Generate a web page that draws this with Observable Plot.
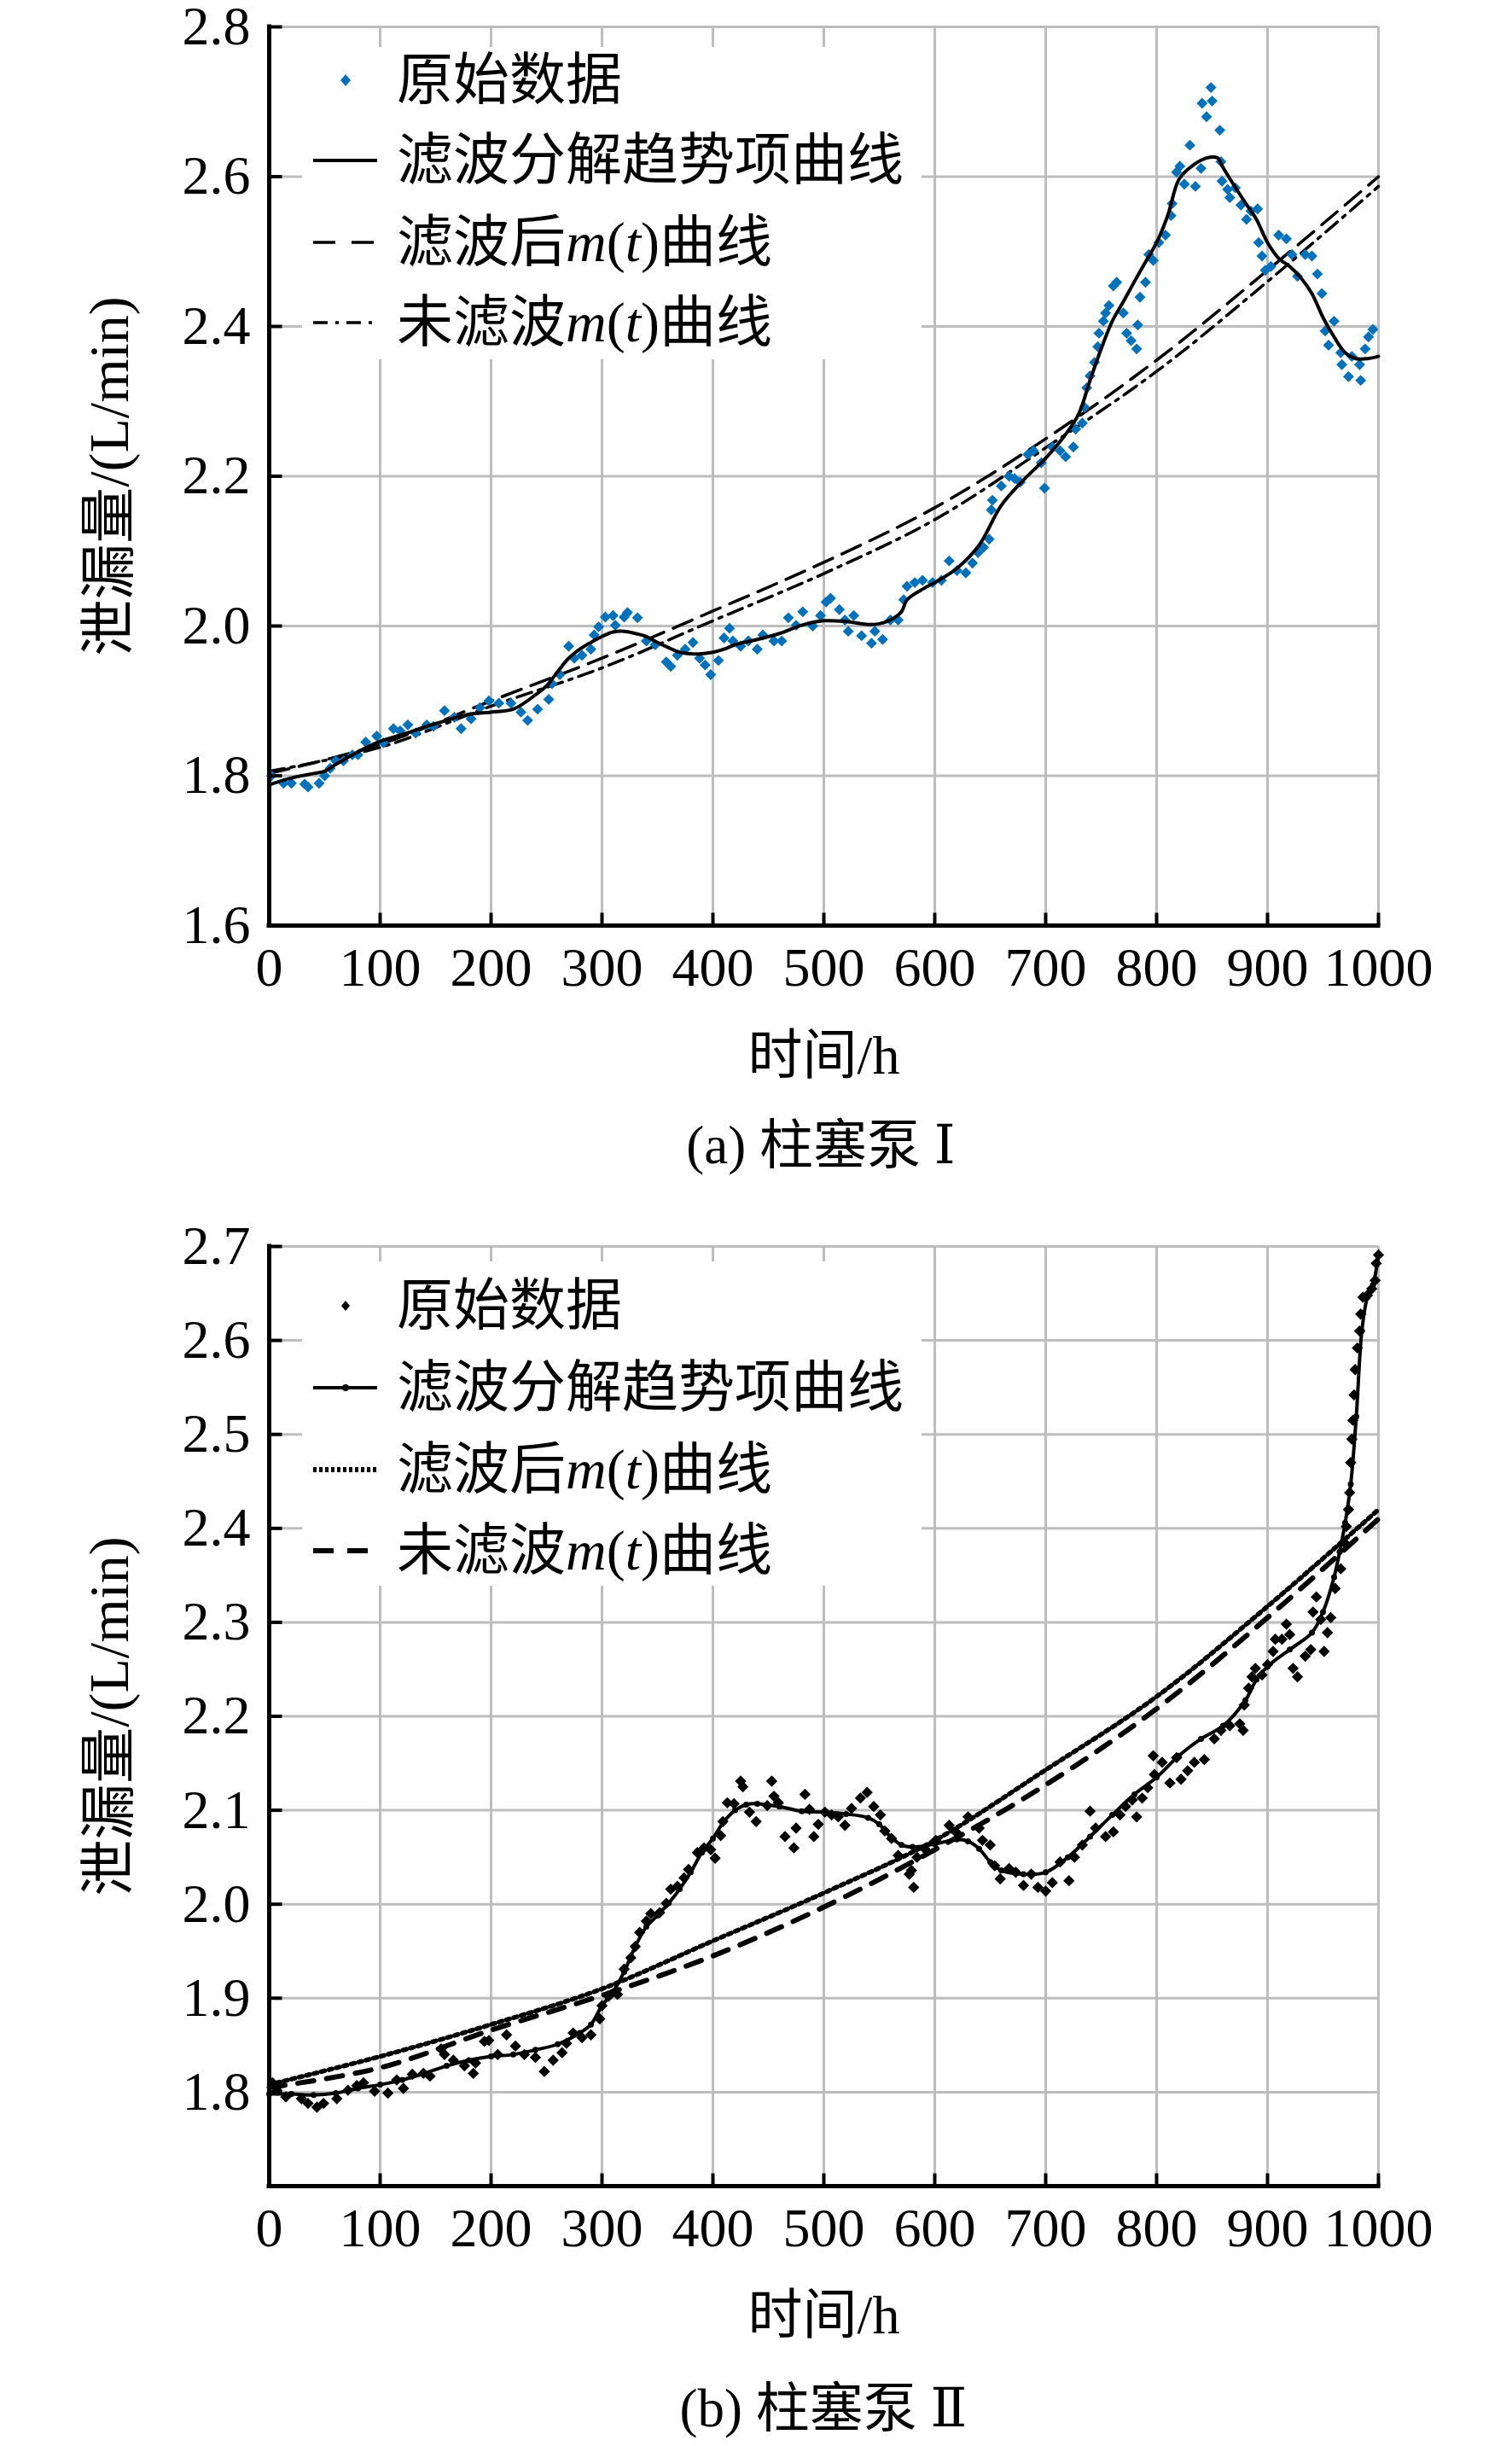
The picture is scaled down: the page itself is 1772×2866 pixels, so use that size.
<!DOCTYPE html>
<html><head><meta charset="utf-8">
<script src="https://cdn.jsdelivr.net/npm/d3@7"></script>
<script src="https://cdn.jsdelivr.net/npm/@observablehq/plot@0.6"></script>
<style>
html,body{margin:0;padding:0;background:#fff;overflow:hidden;}
#page{position:relative;width:1772px;height:2866px;overflow:hidden;font-family:"Liberation Serif","Noto Sans CJK SC",serif;color:#000;}
.fig{position:absolute;left:0;}
.cap{position:absolute;left:0;width:1772px;text-align:center;font-size:63px;line-height:80px;font-family:"Liberation Serif","DejaVu Serif","Noto Sans CJK SC",serif;}
.legend{position:absolute;background:#fff;}
.row{position:absolute;left:0;height:80px;display:flex;align-items:center;font-size:66px;white-space:nowrap;line-height:80px;}
.row svg{flex:none;}
.row i{font-style:italic;}
</style></head>
<body><div id="page"></div>
<script>
// ---------------- data ----------------
const xTicks = [0,100,200,300,400,500,600,700,800,900,1000];
const yTicksA = [1.6,1.8,2.0,2.2,2.4,2.6,2.8];
const yTicksB = [1.8,1.9,2.0,2.1,2.2,2.3,2.4,2.5,2.6,2.7];
const yGridB = [1.7,1.8,1.9,2.0,2.1,2.2,2.3,2.4,2.5,2.6,2.7];

// Pump I raw data [t (h), leakage (L/min)]
const rawA = [[2,1.80],[13,1.79],[20,1.79],[32,1.789],[35,1.785],[45,1.79],[50,1.80],[55,1.81],[60,1.82],[67,1.82],[75,1.828],[80,1.828],[87,1.845],[97,1.853],[103,1.844],[112,1.863],[118,1.86],[125,1.868],[132,1.857],[142,1.868],[148,1.866],[158,1.887],[167,1.878],[173,1.863],[182,1.876],[190,1.891],[198,1.90],[207,1.897],[218,1.897],[227,1.885],[233,1.874],[242,1.889],[252,1.902],[255,1.923],[262,1.935],[270,1.973],[275,1.957],[282,1.961],[290,1.969],[293,1.988],[297,1.999],[303,2.012],[310,2.014],[312,2.001],[320,2.012],[323,2.018],[332,2.011],[340,1.98],[348,1.975],[358,1.952],[362,1.946],[368,1.961],[375,1.969],[382,1.978],[388,1.957],[393,1.948],[398,1.935],[405,1.954],[410,1.984],[415,1.997],[418,1.98],[425,1.973],[432,1.98],[440,1.969],[445,1.988],[455,1.98],[462,1.98],[468,2.011],[475,2.001],[481,2.019],[490,2.0],[497,2.014],[502,2.032],[506,2.037],[514,2.022],[519,2.008],[522,1.993],[527,2.014],[534,1.987],[543,1.977],[546,1.993],[553,1.982],[560,2.008],[567,2.008],[572,2.035],[575,2.053],[582,2.058],[589,2.061],[598,2.058],[606,2.061],[613,2.087],[620,2.074],[628,2.071],[634,2.084],[639,2.098],[644,2.105],[649,2.116],[651,2.155],[652,2.168],[660,2.187],[667,2.20],[672,2.197],[677,2.192],[684,2.229],[689,2.234],[696,2.218],[699,2.184],[706,2.239],[713,2.234],[718,2.226],[725,2.239],[727,2.263],[733,2.271],[735,2.292],[737,2.318],[740,2.334],[744,2.352],[747,2.373],[748,2.391],[752,2.407],[754,2.418],[757,2.428],[761,2.454],[764,2.459],[770,2.418],[773,2.391],[777,2.381],[782,2.37],[783,2.402],[785,2.439],[790,2.459],[793,2.496],[797,2.488],[802,2.512],[808,2.522],[813,2.548],[814,2.564],[818,2.606],[821,2.614],[825,2.59],[830,2.642],[835,2.587],[840,2.611],[841,2.698],[845,2.68],[849,2.719],[850,2.701],[857,2.662],[858,2.62],[859,2.594],[864,2.583],[866,2.572],[871,2.585],[876,2.562],[881,2.543],[885,2.554],[891,2.557],[892,2.512],[895,2.494],[898,2.475],[903,2.48],[910,2.522],[917,2.517],[922,2.496],[927,2.467],[934,2.496],[940,2.494],[945,2.47],[949,2.444],[952,2.394],[955,2.375],[960,2.407],[966,2.365],[967,2.349],[973,2.333],[976,2.36],[983,2.349],[984,2.328],[988,2.37],[991,2.386],[995,2.396]];
const trendA = [[0,1.788],[20,1.797],[40,1.803],[50,1.806],[60,1.815],[80,1.832],[100,1.846],[120,1.855],[140,1.865],[160,1.874],[180,1.882],[200,1.885],[220,1.889],[240,1.908],[250,1.92],[260,1.939],[270,1.957],[280,1.969],[290,1.978],[300,1.986],[310,1.992],[320,1.993],[330,1.99],[340,1.986],[350,1.978],[360,1.971],[370,1.965],[380,1.963],[390,1.963],[400,1.965],[410,1.969],[420,1.975],[440,1.982],[460,1.99],[480,2.001],[500,2.007],[520,2.006],[540,2.002],[550,2.003],[560,2.008],[570,2.019],[575,2.035],[590,2.05],[600,2.058],[620,2.077],[640,2.108],[660,2.161],[680,2.195],[700,2.224],[720,2.26],[730,2.284],[740,2.328],[750,2.37],[760,2.407],[770,2.433],[780,2.46],[790,2.486],[800,2.512],[810,2.548],[820,2.596],[830,2.612],[840,2.622],[848,2.626],[855,2.625],[860,2.612],[870,2.588],[880,2.565],[890,2.543],[900,2.512],[910,2.491],[920,2.48],[930,2.465],[940,2.444],[950,2.412],[960,2.386],[970,2.365],[980,2.357],[990,2.357],[1000,2.36]];
const mFiltA = [[0,1.803],[100,1.842],[200,1.90],[300,1.957],[400,2.02],[500,2.085],[600,2.158],[700,2.25],[800,2.355],[900,2.475],[1000,2.60]];
const mRawA = [[0,1.806],[100,1.838],[200,1.893],[300,1.944],[400,2.007],[500,2.07],[600,2.142],[700,2.238],[800,2.34],[900,2.46],[1000,2.587]];

// Pump II
const rawB = [[3,1.810],[7,1.802],[15,1.795],[29,1.793],[35,1.788],[43,1.784],[49,1.788],[61,1.793],[71,1.802],[79,1.807],[85,1.810],[95,1.801],[107,1.799],[115,1.813],[121,1.804],[129,1.819],[139,1.820],[145,1.817],[155,1.846],[158,1.840],[166,1.834],[176,1.828],[184,1.820],[186,1.831],[194,1.854],[198,1.855],[206,1.840],[214,1.861],[222,1.849],[230,1.840],[240,1.837],[248,1.822],[256,1.834],[264,1.842],[268,1.852],[274,1.863],[282,1.858],[290,1.861],[298,1.878],[300,1.892],[306,1.902],[314,1.904],[320,1.931],[326,1.943],[330,1.955],[334,1.970],[340,1.982],[344,1.990],[352,1.991],[358,2.001],[362,2.016],[368,2.019],[374,2.028],[378,2.037],[386,2.055],[392,2.060],[398,2.058],[402,2.049],[407,2.073],[409,2.088],[413,2.108],[419,2.107],[425,2.131],[427,2.125],[433,2.098],[439,2.088],[449,2.105],[453,2.131],[455,2.115],[459,2.108],[465,2.072],[473,2.060],[475,2.081],[483,2.117],[487,2.101],[491,2.072],[495,2.085],[501,2.098],[507,2.095],[513,2.093],[519,2.084],[525,2.102],[533,2.113],[539,2.119],[545,2.104],[551,2.095],[555,2.078],[561,2.070],[567,2.052],[577,2.032],[579,2.036],[581,2.018],[584,2.050],[591,2.059],[601,2.068],[613,2.084],[619,2.077],[630,2.093],[640,2.081],[643,2.068],[650,2.063],[654,2.041],[659,2.027],[667,2.038],[673,2.034],[680,2.020],[687,2.032],[693,2.018],[700,2.014],[706,2.023],[713,2.045],[721,2.025],[726,2.050],[733,2.063],[740,2.099],[745,2.081],[754,2.072],[761,2.077],[767,2.095],[772,2.104],[778,2.111],[782,2.093],[787,2.113],[792,2.124],[797,2.158],[798,2.138],[805,2.151],[812,2.129],[818,2.156],[822,2.133],[828,2.142],[834,2.151],[843,2.154],[852,2.176],[858,2.185],[866,2.190],[875,2.192],[878,2.185],[879,2.212],[883,2.230],[886,2.242],[889,2.251],[895,2.244],[900,2.255],[905,2.269],[907,2.282],[913,2.282],[917,2.298],[920,2.287],[923,2.251],[927,2.242],[934,2.264],[939,2.271],[941,2.311],[944,2.327],[948,2.303],[951,2.269],[954,2.289],[957,2.305],[961,2.336],[966,2.357],[970,2.384],[971,2.402],[973,2.420],[974,2.438],[975,2.470],[976,2.495],[977,2.515],[978,2.542],[979,2.569],[981,2.592],[983,2.610],[984,2.628],[986,2.646],[990,2.648],[994,2.655],[997,2.664],[998,2.682],[1000,2.691]];
const trendB = [[0,1.798],[20,1.798],[40,1.797],[60,1.799],[80,1.804],[100,1.808],[120,1.813],[140,1.82],[160,1.828],[180,1.834],[200,1.838],[220,1.84],[240,1.845],[260,1.851],[280,1.863],[290,1.872],[300,1.892],[310,1.907],[320,1.928],[330,1.955],[340,1.976],[350,1.988],[360,2.001],[370,2.016],[380,2.034],[390,2.055],[400,2.07],[410,2.088],[420,2.1],[430,2.106],[440,2.107],[460,2.104],[480,2.099],[500,2.098],[520,2.096],[540,2.092],[550,2.085],[560,2.072],[570,2.063],[580,2.061],[600,2.064],[620,2.069],[630,2.067],[640,2.059],[650,2.045],[660,2.036],[680,2.032],[700,2.034],[720,2.05],[740,2.072],[760,2.095],[780,2.117],[800,2.135],[820,2.158],[840,2.176],[860,2.19],[880,2.217],[890,2.239],[900,2.253],[920,2.271],[940,2.289],[950,2.311],[960,2.348],[965,2.375],[970,2.406],[975,2.447],[980,2.519],[985,2.61],[990,2.646],[995,2.659],[1000,2.691]];
const mFiltB = [[0,1.808],[100,1.838],[200,1.872],[300,1.91],[400,1.961],[500,2.012],[600,2.068],[700,2.143],[800,2.221],[900,2.317],[1000,2.42]];
const mRawB = [[0,1.805],[100,1.826],[200,1.866],[300,1.903],[400,1.945],[500,1.997],[600,2.058],[700,2.127],[800,2.208],[900,2.305],[1000,2.41]];

const xLabel = "时间/h";
const yLabel = "泄漏量/(L/min)";
const legendNames = ["原始数据","滤波分解趋势项曲线","滤波后<i>m</i>(<i>t</i>)曲线","未滤波<i>m</i>(<i>t</i>)曲线"];
const captions = ["(a) 柱塞泵 Ⅰ","(b) 柱塞泵 Ⅱ"];

// ---------------- drawing ----------------
const FONT = '"Liberation Serif","Noto Sans CJK SC",serif';
const W = 1772, ML = 315, MR = 157;
const page = document.getElementById("page");

function makePlot(o){
  const frameW = W - ML - MR;
  const frameH = o.height - o.marginTop - o.marginBottom;
  const [y0, y1] = o.yDomain;
  const tl = 15;
  const dyTick = tl * (y1 - y0) / frameH;
  const dxTick = tl * 1000 / frameW;
  const X = d => d[0], Y = d => d[1];
  const grid = {stroke:"#bdbdbd", strokeOpacity:1, strokeWidth:3};
  const marks = [
    Plot.gridX(xTicks, grid),
    Plot.gridY(o.yGrid, grid),
    Plot.line(o.mf, {x:X, y:Y, curve:"catmull-rom", ...o.styleF}),
    Plot.line(o.mu, {x:X, y:Y, curve:"catmull-rom", ...o.styleU}),
    Plot.dot(o.raw, {x:X, y:Y, symbol:"diamond2", r:o.dotR, fill:o.dotColor, stroke:"none"}),
    Plot.line(o.trend, {x:X, y:Y, curve:"catmull-rom", stroke:"#000", strokeWidth:4}),
  ];
  if (o.trendDots) marks.push(Plot.dot(o.trend, {x:X, y:Y, r:3.5, fill:"#000", stroke:"none"}));
  marks.push(
    Plot.link(xTicks, {x1:d=>d, x2:d=>d, y1:()=>y0, y2:()=>y0 + dyTick, stroke:"#000", strokeWidth:4}),
    Plot.link(o.yTicks, {x1:()=>0, x2:()=>dxTick, y1:d=>d, y2:d=>d, stroke:"#000", strokeWidth:4}),
    Plot.ruleX([0], {stroke:"#000", strokeWidth:5, strokeLinecap:"square"}),
    Plot.ruleY([y0], {stroke:"#000", strokeWidth:5, strokeLinecap:"square"}),
    Plot.axisX(xTicks, {tickSize:0, tickPadding:25, fontSize:64, label:null, tickFormat:d=>String(d)}),
    Plot.axisY(o.yTicks, {tickSize:0, tickPadding:22, fontSize:64, label:null, tickFormat:d=>d.toFixed(1)}),
    Plot.text([xLabel], {frameAnchor:"bottom", dy:o.xLabelDy, lineAnchor:"middle", textAnchor:"middle", fontSize:64, text:d=>d}),
    Plot.text([yLabel], {frameAnchor:"left", dx:-187, rotate:-90, lineAnchor:"middle", textAnchor:"middle", fontSize:66, text:d=>d})
  );
  return Plot.plot({
    width:W, height:o.height, marginTop:o.marginTop, marginBottom:o.marginBottom, marginLeft:ML, marginRight:MR,
    style:{fontFamily:FONT, background:"#fff", color:"#000", overflow:"visible"},
    x:{domain:[0,1000]}, y:{domain:o.yDomain},
    marks
  });
}

function place(el, top){
  const d = document.createElement("div");
  d.className = "fig"; d.style.top = top + "px";
  d.appendChild(el); page.appendChild(d);
}

function caption(text, centerY, centerX){
  const c = document.createElement("div");
  c.className = "cap"; c.style.top = (centerY - 40) + "px"; c.style.left = (centerX - W/2) + "px";
  c.textContent = text; page.appendChild(c);
}

function legend(box, rowYs, symbols){
  const lg = document.createElement("div");
  lg.className = "legend";
  Object.assign(lg.style, {left:box.left+"px", top:box.top+"px", width:box.width+"px", height:box.height+"px"});
  rowYs.forEach((y, i) => {
    const r = document.createElement("div");
    r.className = "row";
    r.style.top = (y - box.top - 40) + "px";
    r.innerHTML = `<svg width="111" height="80" viewBox="0 0 111 80">${symbols[i]}</svg><span>${legendNames[i]}</span>`;
    lg.appendChild(r);
  });
  page.appendChild(lg);
}

// Figure (a)
const plotA = makePlot({
  height:1290, marginTop:31, marginBottom:206, yDomain:[1.6,2.8], yTicks:yTicksA, yGrid:yTicksA,
  raw:rawA, trend:trendA, mf:mFiltA, mu:mRawA, dotColor:"#0072BD", dotR:5.8, trendDots:false, xLabelDy:153,
  styleF:{stroke:"#000", strokeWidth:3.5, strokeDasharray:"24,12"},
  styleU:{stroke:"#000", strokeWidth:3.5, strokeDasharray:"18,8,4,8"}
});
place(plotA, 0);
caption(captions[0], 1342, 962);
legend({left:354, top:55, width:726, height:366}, [94,188,284,378], [
  `<path d="M51,33 L57,40 L51,47 L45,40Z" fill="#0072BD"/>`,
  `<line x1="13" x2="88" y1="40" y2="40" stroke="#000" stroke-width="4"/>`,
  `<line x1="13" x2="88" y1="40" y2="40" stroke="#000" stroke-width="3.5" stroke-dasharray="26,19"/>`,
  `<line x1="13" x2="88" y1="40" y2="40" stroke="#000" stroke-width="3.5" stroke-dasharray="17,9,4,9"/>`
]);

// Figure (b)
const plotB = makePlot({
  height:1370, marginTop:60, marginBottom:209, yDomain:[1.7,2.7], yTicks:yTicksB, yGrid:yGridB,
  raw:rawB, trend:trendB, mf:mFiltB, mu:mRawB, dotColor:"#000", dotR:6, trendDots:true, xLabelDy:152,
  styleF:{stroke:"#000", strokeWidth:5.5, strokeDasharray:"4,5"},
  styleU:{stroke:"#000", strokeWidth:6, strokeDasharray:"19,15"}
});
place(plotB, 1400);
caption(captions[1], 2822, 965);
legend({left:354, top:1478, width:726, height:380}, [1530,1626,1722,1817], [
  `<path d="M51,34 L56,40 L51,46 L46,40Z" fill="#000"/>`,
  `<line x1="13" x2="88" y1="40" y2="40" stroke="#000" stroke-width="4"/><circle cx="51" cy="40" r="4" fill="#000"/>`,
  `<line x1="13" x2="88" y1="40" y2="40" stroke="#000" stroke-width="6" stroke-dasharray="4,3"/>`,
  `<line x1="13" x2="88" y1="40" y2="40" stroke="#000" stroke-width="6" stroke-dasharray="24,16"/>`
]);
</script>
</body></html>
